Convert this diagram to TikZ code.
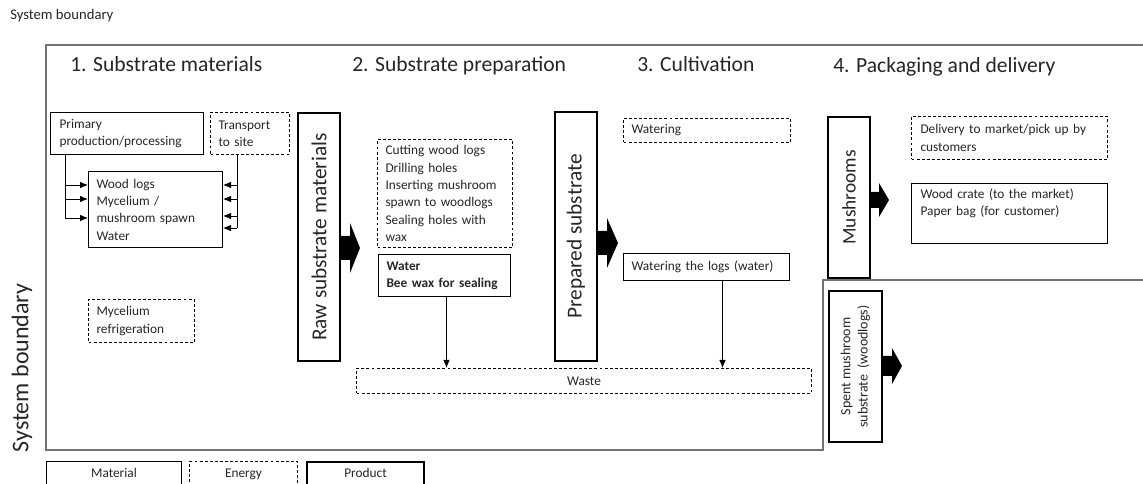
\documentclass[tikz,border=0pt]{standalone}
\usepackage{fontspec}
\usepackage{graphicx}
\setmainfont{Carlito}
\usetikzlibrary{arrows.meta,calc}
\newdimen\pxu \pxu=0.75pt
\newcommand\fatarrow[5]{\fill[black] ($(#1)+(0,-#3)$) -- ++(#2,0) -- ++(0,#3-#5) -- ++(#4,#5) -- ++(-#4,#5) -- ++(0,#3-#5) -- ++(-#2,0) -- cycle;}
\begin{document}
\begin{tikzpicture}[x=0.75pt,y=-0.75pt,
  every node/.style={font=\fontsize{10}{13}\selectfont, text=black!85, inner sep=0pt},
  mat/.style={draw=black, line width=0.75pt, anchor=north west, align=left},
  ene/.style={mat, dash pattern=on 2.2pt off 1.6pt},
  prod/.style={draw=black, line width=1.5pt, anchor=north west, align=center, font=\fontsize{16}{19}\selectfont},
  head/.style={anchor=base west, font=\fontsize{16.2}{19}\selectfont},
  frame/.style={draw=black!55, line width=1pt},
  thinl/.style={line width=0.7pt},
  arr/.style={-{Latex[length=6pt,width=5pt]}, line width=0.7pt},
]
\clip (0,0) rectangle (1143,484);
% frame
\draw[frame] (1143,45) -- (46,45) -- (46,450) -- (823,450) -- (823,280) -- (1143,280);
\node[anchor=base west, font=\fontsize{11}{13}\selectfont] (sbt) at (10,20) {System boundary};
\node[rotate=90, font=\fontsize{18}{21}\selectfont] (sbl) at (22,368) {System boundary};
% headings
\node[head] (h1) at (70,72) {1. Substrate materials};
\node[head] (h2) at (352,72) {2. Substrate preparation};
\node[head] (h3) at (637,72) {3. Cultivation};
\node[head] (h4) at (833,73) {4. Packaging and delivery};
% stage 1
\node[mat, minimum width=153\pxu, minimum height=42\pxu, text width=135\pxu] (prim) at (50,112) {Primary\\production/processing};
\node[ene, minimum width=79\pxu, minimum height=42\pxu, text width=63\pxu] (trans) at (210,112) {Transport\\to site};
\node[mat, minimum width=134\pxu, minimum height=76\pxu, text width=118\pxu] (wood) at (88,171) {Wood logs\\Mycelium /\\mushroom spawn\\Water};
\node[ene, minimum width=106\pxu, minimum height=43\pxu, text width=90\pxu] (myc) at (88,299) {Mycelium\\refrigeration};
\coordinate (pl) at ($(prim.south west)+(15,0)$);
\draw[thinl] (pl) -- (pl |- 0,218);
\foreach \yy in {185,199,218} \draw[arr] (pl |- 0,\yy) -- (wood.west |- 0,\yy);
\coordinate (pr) at ($(trans.south west)+(27,0)$);
\draw[thinl] (pr) -- (pr |- 0,228);
\foreach \yy in {185,199,216,228} \draw[arr] (pr |- 0,\yy) -- (wood.east |- 0,\yy);
% product: raw
\node[prod, minimum width=42\pxu, minimum height=248\pxu] (raw) at (297,112) {\rotatebox{90}{Raw substrate materials}};
\coordinate (a1) at (raw.east |- 0,248);
\fatarrow{a1}{9}{12}{10}{25}
% stage 2
\node[ene, minimum width=135\pxu, minimum height=108\pxu, text width=119\pxu] (cut) at (377,139) {Cutting wood logs\\Drilling holes\\Inserting mushroom\\spawn to woodlogs\\Sealing holes with\\wax};
\node[mat, minimum width=132\pxu, minimum height=42\pxu, text width=116\pxu, font=\fontsize{10}{13}\selectfont\bfseries] (water) at (378,254) {Water\\Bee wax for sealing};
\node[ene, minimum width=455\pxu, minimum height=25\pxu, align=center] (waste) at (356,368) {Waste};
\coordinate (w1) at ($(water.south)+(2,0)$);
\draw[arr] (w1) -- (w1 |- waste.north);
% product: prepared
\node[prod, minimum width=42\pxu, minimum height=249\pxu] (prep) at (554,111) {\rotatebox{90}{Prepared substrate}};
\coordinate (a2) at (prep.east |- 0,243);
\fatarrow{a2}{9}{12}{11}{25}
% stage 3
\node[ene, minimum width=167\pxu, minimum height=24\pxu, text width=151\pxu] (watering) at (623,118) {Watering};
\node[mat, minimum width=166\pxu, minimum height=27\pxu, text width=150\pxu] (wlogs) at (623,253) {Watering the logs (water)};
\coordinate (w2) at ($(wlogs.south)+(16,0)$);
\draw[arr] (w2) -- (w2 |- waste.north);
% stage 4
\node[prod, minimum width=42\pxu, minimum height=161\pxu, font=\fontsize{14.5}{17}\selectfont] (mush) at (827,116) {\rotatebox{90}{Mushrooms}};
\coordinate (a3) at (mush.east |- 0,200);
\fatarrow{a3}{8}{8}{10}{17}
\node[ene, minimum width=196\pxu, minimum height=43\pxu, text width=178\pxu] (deliv) at (911,116) {Delivery to market/pick up by\\customers};
\node[mat, minimum width=196\pxu, minimum height=60\pxu, text width=178\pxu] (crate) at (911,183) {Wood crate (to the market)\\Paper bag (for customer)\\\strut};
\node[prod, minimum width=53\pxu, minimum height=151\pxu, font=\fontsize{10.5}{13}\selectfont] (spent) at (828,290) {\rotatebox{90}{\begin{tabular}{@{}c@{}}Spent mushroom\\substrate\ \ (woodlogs)\end{tabular}}};
\coordinate (a4) at (spent.east |- 0,366);
\fatarrow{a4}{9}{10}{10}{18}
% legend
\node[mat, minimum width=135\pxu, minimum height=25\pxu, align=center] (lmat) at (46,461) {\strut Material};
\node[ene, minimum width=108\pxu, minimum height=25\pxu, align=center] (lene) at (189,461) {\strut Energy};
\node[prod, minimum width=117\pxu, minimum height=25\pxu, font=\fontsize{10}{13}\selectfont] (lprod) at (306,461) {\strut Product};
\end{tikzpicture}
\end{document}
